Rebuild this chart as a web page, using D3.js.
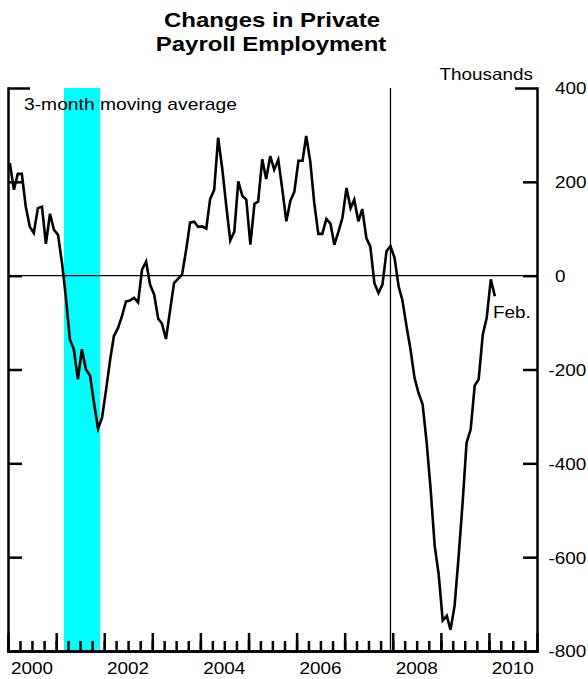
<!DOCTYPE html>
<html>
<head>
<meta charset="utf-8">
<script src="https://cdn.jsdelivr.net/npm/d3@7"></script>
<style>
  body { margin: 0; background: #fff; }
  text { font-family: "Liberation Sans", Arial, sans-serif; fill: #000; }
</style>
</head>
<body>
<div id="chart"></div>
<script>
// 3-month moving average of monthly change, thousands (Jan of each year first)
var jobs2000 = [240, 183, 217, 217, 147, 104, 91, 144, 147, 68, 132, 98];
var jobs2001 = [87, 25, -44, -136, -157, -221, -157, -200, -213, -271, -326, -303];
var jobs2002 = [-243, -179, -129, -112, -87, -55, -53, -47, -57, 13, 30, -19];
var jobs2003 = [-40, -92, -102, -135, -76, -16, -7, 2, 55, 113, 115, 104];
var jobs2004 = [105, 100, 163, 183, 294, 229, 151, 75, 94, 201, 170, 162];
var jobs2005 = [66, 153, 158, 248, 206, 255, 226, 247, 183, 116, 160, 179];
var jobs2006 = [245, 245, 298, 243, 155, 89, 89, 121, 111, 66, 94, 123];
var jobs2007 = [187, 144, 162, 116, 142, 80, 62, -16, -37, -19, 52, 63];
var jobs2008 = [38, -23, -53, -108, -157, -218, -250, -274, -356, -455, -576, -636];
var jobs2009 = [-735, -725, -755, -704, -601, -484, -356, -328, -234, -221, -126, -90];
var jobs2010 = [-8, -44];

var yTicks = [400, 200, 0, -200, -400, -600, -800];
var yearLabels = [2000, 2002, 2004, 2006, 2008, 2010];
var recession = [new Date(2001, 2, 1), new Date(2001, 11, 1)];
var peak2007 = new Date(2007, 11, 15);

var allJobs = [].concat(jobs2000, jobs2001, jobs2002, jobs2003, jobs2004,
                        jobs2005, jobs2006, jobs2007, jobs2008, jobs2009, jobs2010);
var data = allJobs.map(function(v, i) {
  return { date: new Date(2000, i, 15), value: v };
});

var w = 588, h = 679;
var stretch = 1.16;   // text in the original is wider than it is tall

var svg = d3.select("#chart")
            .append("svg")
            .attr("width", w)
            .attr("height", h);

var x = d3.scaleTime()
          .domain([new Date(2000, 0, 1), new Date(2011, 0, 1)])
          .range([8, 537]);

var y = d3.scaleLinear()
          .domain([-800, 400])
          .range([651, 88]);

function wide(sel, k) {
  k = k || stretch;
  sel.each(function() {
    var t = d3.select(this);
    var tx = +t.attr("x") || 0, ty = +t.attr("y") || 0;
    t.attr("x", 0).attr("y", 0)
     .attr("transform", "translate(" + tx + "," + ty + ") scale(" + k + ",1)");
  });
}

// recession shading
svg.append("rect")
   .attr("x", x(recession[0]))
   .attr("y", y(400))
   .attr("width", x(recession[1]) - x(recession[0]))
   .attr("height", y(-800) - y(400))
   .attr("fill", "#00ffff");

// zero line and business-cycle peak
svg.append("line")
   .attr("x1", x.range()[0]).attr("x2", x.range()[1])
   .attr("y1", y(0)).attr("y2", y(0))
   .attr("stroke", "#000").attr("stroke-width", 1.3);

svg.append("line")
   .attr("x1", x(peak2007)).attr("x2", x(peak2007))
   .attr("y1", y(400)).attr("y2", y(-800))
   .attr("stroke", "#000").attr("stroke-width", 1.3);

// series
var line = d3.line()
             .x(function(d) { return x(d.date); })
             .y(function(d) { return y(d.value); });

svg.append("path")
   .datum(data)
   .attr("d", line)
   .attr("fill", "none")
   .attr("stroke", "#000")
   .attr("stroke-width", 2.6)
   .attr("stroke-linejoin", "miter");

// right axis with labels
var right = svg.append("g")
               .attr("transform", "translate(537,0)")
               .call(d3.axisRight(y)
                       .tickValues(yTicks)
                       .tickSizeInner(-14)
                       .tickSizeOuter(0)
                       .tickPadding(18)
                       .tickFormat(function(d) { return String(d); }));
right.selectAll("text")
     .attr("font-size", 16.3)
     .attr("dy", "0.36em");
right.selectAll("text").each(function(d) {
  var t = d3.select(this);
  t.attr("transform", "translate(" + (+t.attr("x") + (d < 0 ? -6.5 : 0)) + ",0) scale(" + stretch + ",1)")
   .attr("x", 0);
});
right.selectAll(".tick line")
     .attr("x2", function(d) { return d === 400 ? -22 : -14; });

// left axis, ticks only
var left = svg.append("g")
              .attr("transform", "translate(8,0)")
              .call(d3.axisRight(y)
                      .tickValues(yTicks)
                      .tickSizeInner(14)
                      .tickSizeOuter(0)
                      .tickFormat(""));
left.selectAll(".tick line")
    .attr("x2", function(d) { return d === 400 ? 22 : 14; });

// bottom axis, quarter and year ticks
svg.append("g")
   .attr("transform", "translate(0,651)")
   .call(d3.axisBottom(x)
           .ticks(d3.timeMonth.every(3))
           .tickSizeInner(-10)
           .tickSizeOuter(0)
           .tickFormat(""));

svg.append("g")
   .attr("transform", "translate(0,651)")
   .call(d3.axisBottom(x)
           .ticks(d3.timeYear.every(1))
           .tickSizeInner(-18)
           .tickSizeOuter(0)
           .tickFormat(""));

svg.selectAll(".domain, .tick line")
   .attr("stroke", "#000")
   .attr("stroke-width", 2.5);
svg.selectAll(".domain").attr("stroke-linecap", "square");

svg.selectAll(".yearLabel")
   .data(yearLabels)
   .enter()
   .append("text")
   .attr("class", "yearLabel")
   .attr("x", function(d) { return x(new Date(d, 6, 1)); })
   .attr("y", 674)
   .attr("text-anchor", "middle")
   .attr("font-size", 16.3)
   .text(function(d) { return d; })
   .call(wide);

// titles and notes
svg.append("text")
   .attr("x", 272).attr("y", 27)
   .attr("text-anchor", "middle")
   .attr("font-size", 20).attr("font-weight", "bold")
   .text("Changes in Private")
   .call(wide, 1.2);

svg.append("text")
   .attr("x", 271).attr("y", 51)
   .attr("text-anchor", "middle")
   .attr("font-size", 20).attr("font-weight", "bold")
   .text("Payroll Employment")
   .call(wide, 1.2);

svg.append("text")
   .attr("x", 533).attr("y", 80)
   .attr("text-anchor", "end")
   .attr("font-size", 16.3)
   .text("Thousands")
   .call(wide);

svg.append("text")
   .attr("x", 24).attr("y", 110)
   .attr("font-size", 16.6)
   .text("3-month moving average")
   .call(wide);

svg.append("text")
   .attr("x", 493).attr("y", 318)
   .attr("font-size", 16.3)
   .text("Feb.")
   .call(wide);
</script>
</body>
</html>
